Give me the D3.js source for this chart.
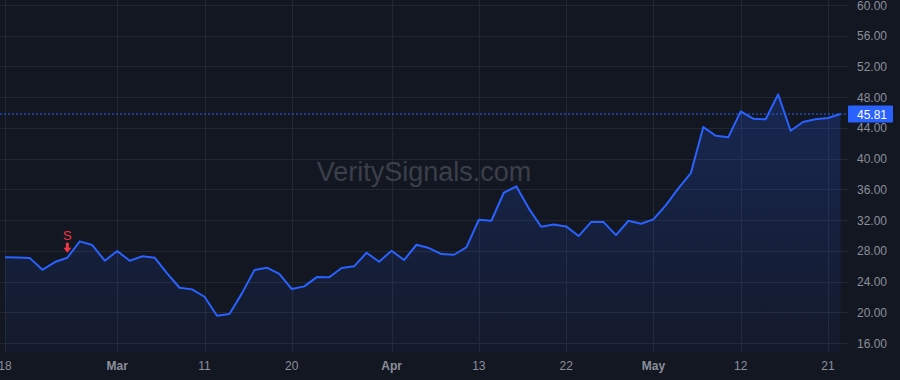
<!DOCTYPE html>
<html>
<head>
<meta charset="utf-8">
<script src="https://cdn.jsdelivr.net/npm/d3@7"></script>
<style>
  html, body { margin: 0; padding: 0; background: #131722; }
  svg { display: block; font-family: "Liberation Sans", Arial, sans-serif; }
</style>
</head>
<body>
<script>
// closing prices, one per trading session
const closes = [
  27.15, 27.12, 27.05, 25.53, 26.54, 27.10, 29.23, 28.75, 26.71, 27.97,
  26.71, 27.28, 27.10, 25.07, 23.19, 22.98, 22.02, 19.54, 19.77, 22.46,
  25.49, 25.80, 25.01, 23.02, 23.37, 24.58, 24.55, 25.76, 25.98, 27.75,
  26.58, 28.01, 26.80, 28.79, 28.36, 27.58, 27.49, 28.45, 32.04, 31.91,
  35.56, 36.40, 33.53, 31.13, 31.44, 31.18, 29.92, 31.74, 31.74, 30.05,
  31.91, 31.53, 32.10, 33.96, 36.13, 38.10, 44.11, 42.98, 42.77, 46.16,
  45.20, 45.12, 48.37, 43.63, 44.77, 45.12, 45.29, 45.81
];

// x axis labels: session index -> text (month starts are bold)
const xTickIdx    = [0, 9, 16, 23, 31, 38, 45, 52, 59, 66];
const xTickLabels = ["18", "Mar", "11", "20", "Apr", "13", "22", "May", "12", "21"];
const monthTicks  = ["Mar", "Apr", "May"];

const yTicks = [16, 20, 24, 28, 32, 36, 40, 44, 48, 52, 56, 60];

// sell signal marker
const signals = [{ idx: 5, label: "S" }];

const lastPrice = closes[closes.length - 1];

const width = 900, height = 380;
const plotRight = 848, plotBottom = 352;

const svg = d3.select("body").append("svg")
  .attr("width", width)
  .attr("height", height);

svg.append("rect")
  .attr("width", width).attr("height", height)
  .attr("fill", "#131722");

const x = d3.scaleLinear().domain([0, 66]).range([5, 828]);
const y = d3.scaleLinear().domain([16, 60]).range([343, 5]);

// grid
svg.append("g").selectAll("line").data(yTicks).enter().append("line")
  .attr("x1", 0).attr("x2", plotRight)
  .attr("y1", d => Math.round(y(d)) + 0.5).attr("y2", d => Math.round(y(d)) + 0.5)
  .attr("stroke", "#232734").attr("stroke-width", 1);

svg.append("g").selectAll("line").data(xTickIdx).enter().append("line")
  .attr("x1", d => Math.round(x(d)) + 0.5).attr("x2", d => Math.round(x(d)) + 0.5)
  .attr("y1", 0).attr("y2", plotBottom)
  .attr("stroke", "#232734").attr("stroke-width", 1);

// watermark
svg.append("text")
  .attr("x", 424).attr("y", 181)
  .attr("text-anchor", "middle")
  .attr("font-size", 27)
  .attr("fill", "#3b3f4a")
  .text("VeritySignals.com");

// area fill
const defs = svg.append("defs");
const grad = defs.append("linearGradient")
  .attr("id", "areaGrad")
  .attr("gradientUnits", "userSpaceOnUse")
  .attr("x1", 0).attr("x2", 0)
  .attr("y1", y(d3.max(closes))).attr("y2", plotBottom);
grad.append("stop").attr("offset", "0%").attr("stop-color", "#2962ff").attr("stop-opacity", 0.22);
grad.append("stop").attr("offset", "100%").attr("stop-color", "#2962ff").attr("stop-opacity", 0.04);

const area = d3.area()
  .x((d, i) => x(i))
  .y0(plotBottom)
  .y1(d => y(d));

svg.append("path")
  .datum(closes)
  .attr("d", area)
  .attr("fill", "url(#areaGrad)");

// last price line
svg.append("line")
  .attr("x1", 0).attr("x2", plotRight)
  .attr("y1", y(lastPrice)).attr("y2", y(lastPrice))
  .attr("stroke", "#2962ff")
  .attr("stroke-width", 1)
  .attr("stroke-dasharray", "2,2");

// price line
const line = d3.line()
  .x((d, i) => x(i))
  .y(d => y(d));

svg.append("path")
  .datum(closes)
  .attr("d", line)
  .attr("fill", "none")
  .attr("stroke", "#2962ff")
  .attr("stroke-width", 2)
  .attr("stroke-linejoin", "round");

// signals
const sig = svg.append("g").selectAll("g").data(signals).enter().append("g")
  .attr("transform", d => `translate(${x(d.idx)},${y(closes[d.idx])})`);
sig.append("text")
  .attr("y", -18)
  .attr("text-anchor", "middle")
  .attr("font-size", 13)
  .attr("fill", "#f23645")
  .text(d => d.label);
sig.append("path")
  .attr("d", "M-1.5,-15 L1.5,-15 L1.5,-10 L4,-10 L0,-5 L-4,-10 L-1.5,-10 Z")
  .attr("fill", "#f23645");

// right axis
svg.append("g").selectAll("text").data(yTicks).enter().append("text")
  .attr("x", 887).attr("y", d => y(d) + 4.5)
  .attr("text-anchor", "end")
  .attr("font-size", 12)
  .attr("fill", "#8b8f9a")
  .text(d => d.toFixed(2));

// last price label
const lp = y(lastPrice);
svg.append("rect")
  .attr("x", 848).attr("y", lp - 8.5)
  .attr("width", 45).attr("height", 17)
  .attr("rx", 1)
  .attr("fill", "#2962ff");
svg.append("text")
  .attr("x", 887).attr("y", lp + 4.5)
  .attr("text-anchor", "end")
  .attr("font-size", 12)
  .attr("fill", "#ffffff")
  .text(lastPrice.toFixed(2));

// bottom axis
svg.append("g").selectAll("text").data(xTickIdx).enter().append("text")
  .attr("x", d => x(d)).attr("y", 370)
  .attr("text-anchor", "middle")
  .attr("font-size", 12)
  .attr("font-weight", (d, i) => monthTicks.includes(xTickLabels[i]) ? "bold" : "normal")
  .attr("fill", "#8b8f9a")
  .text((d, i) => xTickLabels[i]);
</script>
</body>
</html>
